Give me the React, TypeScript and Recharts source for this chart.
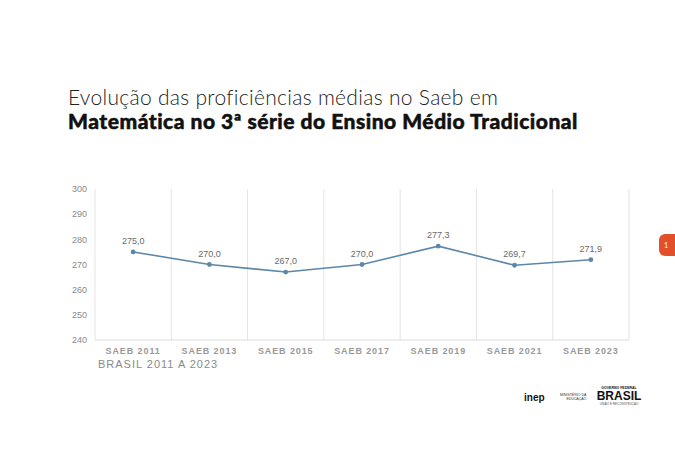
import React from "react";
import {
  LineChart,
  Line,
  XAxis,
  YAxis,
  CartesianGrid,
  LabelList,
} from "recharts";

/* ------------------------------------------------------------------ */
/*  Data                                                               */
/* ------------------------------------------------------------------ */

const EDITIONS = [
  "SAEB 2011",
  "SAEB 2013",
  "SAEB 2015",
  "SAEB 2017",
  "SAEB 2019",
  "SAEB 2021",
  "SAEB 2023",
];

const PROFICIENCY = [275.0, 270.0, 267.0, 270.0, 277.3, 269.7, 271.9];

const Y_TICKS = [240, 250, 260, 270, 280, 290, 300];

// category slots: centres for the labels, boundaries for the grid lines
const SLOT_CENTERS = [0.5, 1.5, 2.5, 3.5, 4.5, 5.5, 6.5];
const SLOT_BOUNDS = [0, 1, 2, 3, 4, 5, 6, 7];

const data = EDITIONS.map((edition, i) => ({
  edition,
  pos: SLOT_CENTERS[i],
  value: PROFICIENCY[i],
}));

const LINE_COLOR = "#5d87a8";
const AXIS_TEXT = "#8a8a8a";

const fmt = (v: number) => v.toFixed(1).replace(".", ",");
const editionAt = (p: number) => EDITIONS[SLOT_CENTERS.indexOf(p)] ?? "";

/* ------------------------------------------------------------------ */
/*  Component                                                          */
/* ------------------------------------------------------------------ */

export default function App() {
  return (
    <div
      style={{
        position: "absolute",
        left: 0,
        top: 0,
        width: 675,
        height: 450,
        background: "#fff",
        overflow: "hidden",
        fontFamily: "Lato, 'Open Sans', sans-serif",
      }}
    >
      <div
        style={{
          position: "absolute",
          left: 68,
          top: 85,
          fontSize: 21,
          lineHeight: "24px",
          color: "#222",
          whiteSpace: "nowrap",
        }}
      >
        <div style={{ fontWeight: 300, letterSpacing: 0.3 }}>
          Evolução das proficiências médias no Saeb em
        </div>
        <div
          style={{
            fontWeight: 900,
            color: "#111",
            letterSpacing: 0.5,
            WebkitTextStroke: "0.5px #111",
          }}
        >
          Matemática no 3ª série do Ensino Médio Tradicional
        </div>
      </div>

      <div style={{ position: "absolute", left: 0, top: 0 }}>
        <LineChart
          width={675}
          height={450}
          data={data}
          margin={{ top: 189, right: 46, bottom: 80, left: 65 }}
        >
          <XAxis
            xAxisId="grid"
            type="number"
            dataKey="pos"
            domain={[0, 7]}
            ticks={SLOT_BOUNDS}
            hide
          />
          <CartesianGrid
            xAxisId="grid"
            horizontal={false}
            stroke="#e4e4e4"
            strokeWidth={1}
          />
          <XAxis
            type="number"
            dataKey="pos"
            domain={[0, 7]}
            ticks={SLOT_CENTERS}
            tickFormatter={editionAt}
            interval={0}
            tickLine={false}
            axisLine={{ stroke: "#dcdcdc" }}
            tickSize={0}
            tickMargin={8}
            height={30}
            tick={{
              fill: "#999",
              fontSize: 9,
              fontWeight: 700,
              fontFamily: "'Liberation Sans', Arial, sans-serif",
              letterSpacing: 0.9,
            }}
          />
          <YAxis
            domain={[240, 300]}
            ticks={Y_TICKS}
            width={30}
            axisLine={false}
            tickLine={false}
            tick={{
              fill: AXIS_TEXT,
              fontSize: 9,
              fontFamily: "'Liberation Sans', Arial, sans-serif",
            }}
          />
          <Line
            type="linear"
            dataKey="value"
            stroke={LINE_COLOR}
            strokeWidth={1.6}
            dot={{ r: 1.6, fill: LINE_COLOR, stroke: LINE_COLOR }}
            activeDot={false}
            isAnimationActive={false}
          >
            <LabelList
              dataKey="value"
              position="top"
              offset={8}
              formatter={(v: number) => fmt(v)}
              style={{
                fill: "#6a6a6a",
                fontSize: 9,
                fontFamily: "'Liberation Sans', Arial, sans-serif",
              }}
            />
          </Line>
        </LineChart>
      </div>

      <div
        style={{
          position: "absolute",
          left: 98,
          top: 358,
          fontSize: 11,
          color: AXIS_TEXT,
          letterSpacing: 1,
          fontFamily: "'Liberation Sans', Arial, sans-serif",
        }}
      >
        BRASIL 2011 A 2023
      </div>

      {/* side tab */}
      <div
        style={{
          position: "absolute",
          left: 659,
          top: 234,
          width: 30,
          height: 22,
          borderRadius: 6,
          background: "#e2502b",
          color: "#fff",
          fontSize: 7,
          lineHeight: "22px",
          paddingLeft: 5,
          boxSizing: "border-box",
        }}
      >
        1
      </div>

      {/* footer logos */}
      <div
        style={{
          position: "absolute",
          left: 524,
          top: 392,
          fontSize: 10,
          fontWeight: 900,
          color: "#111",
          fontFamily: "'Liberation Sans', Arial, sans-serif",
        }}
      >
        inep
      </div>
      <div
        style={{
          position: "absolute",
          left: 560,
          top: 393,
          fontSize: 3.5,
          lineHeight: "4px",
          textAlign: "right",
          color: "#333",
          fontFamily: "'Liberation Sans', Arial, sans-serif",
        }}
      >
        MINISTÉRIO DA
        <br />
        EDUCAÇÃO
      </div>
      <div
        style={{
          position: "absolute",
          left: 596,
          top: 386,
          width: 46,
          textAlign: "center",
          color: "#111",
          fontFamily: "'Liberation Sans', Arial, sans-serif",
        }}
      >
        <div style={{ fontSize: 3.5, fontWeight: 700 }}>GOVERNO FEDERAL</div>
        <div style={{ fontSize: 12, fontWeight: 900, lineHeight: "12px" }}>
          BRASIL
        </div>
        <div style={{ fontSize: 3, color: "#555" }}>UNIÃO E RECONSTRUÇÃO</div>
      </div>
    </div>
  );
}
